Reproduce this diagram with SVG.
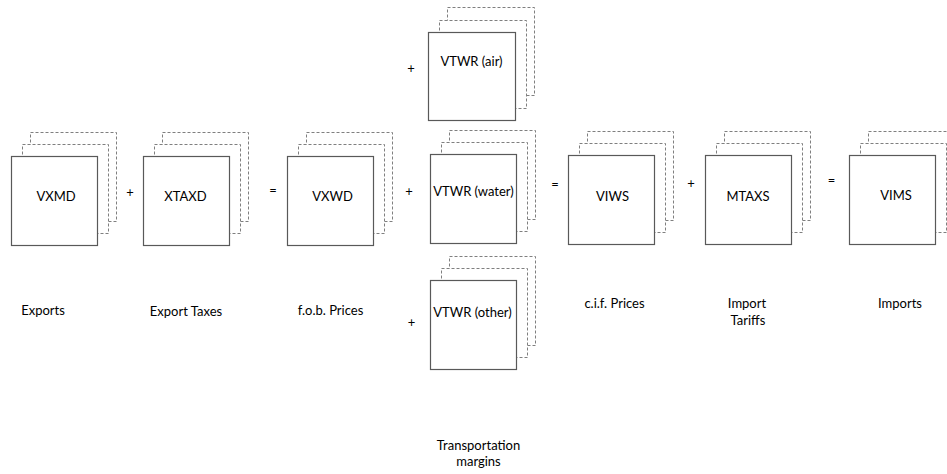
<svg xmlns="http://www.w3.org/2000/svg" width="947" height="474" viewBox="0 0 947 474">
<style>
  .bg { fill: #ffffff; }
  .d { fill: #ffffff; stroke: #7f7f7f; stroke-width: 1; stroke-dasharray: 3 2; }
  .m { fill: #ffffff; stroke: #595959; stroke-width: 1.2; }
  .t { font-family: Lato, "Liberation Sans", sans-serif; font-size: 13px; fill: #000000; text-anchor: middle; }
  .op { font-family: Lato, "Liberation Sans", sans-serif; font-size: 13px; fill: #000000; text-anchor: middle; }
</style>
<rect class="bg" x="0" y="0" width="947" height="474"/>

<g id="node-VXMD">
  <rect class="d" x="30.5" y="132.5" width="86" height="89"/>
  <rect class="d" x="22.5" y="144.5" width="86" height="89"/>
  <rect class="m" x="11.5" y="156.5" width="86" height="89"/>
  <text class="t" x="56" y="201">VXMD</text>
</g>
<g id="node-XTAXD">
  <rect class="d" x="162.5" y="132.5" width="86" height="89"/>
  <rect class="d" x="154.5" y="144.5" width="86" height="89"/>
  <rect class="m" x="143.5" y="156.5" width="86" height="89"/>
  <text class="t" x="185.5" y="201">XTAXD</text>
</g>
<g id="node-VXWD">
  <rect class="d" x="306.5" y="132.5" width="86" height="89"/>
  <rect class="d" x="298.5" y="144.5" width="86" height="89"/>
  <rect class="m" x="287.5" y="156.5" width="86" height="89"/>
  <text class="t" x="332.5" y="201">VXWD</text>
</g>
<g id="node-VTWR-air">
  <rect class="d" x="447.5" y="7.5" width="87" height="88"/>
  <rect class="d" x="439.5" y="20.5" width="87" height="88"/>
  <rect class="m" x="428.5" y="32.5" width="87" height="88"/>
  <text class="t" x="471.5" y="66">VTWR (air)</text>
</g>
<g id="node-VTWR-water">
  <rect class="d" x="449.5" y="130.5" width="86" height="89"/>
  <rect class="d" x="441.5" y="142.5" width="86" height="89"/>
  <rect class="m" x="430.5" y="154.5" width="86" height="89"/>
  <text class="t" x="473.5" y="196">VTWR (water)</text>
</g>
<g id="node-VTWR-other">
  <rect class="d" x="449.5" y="256.5" width="86" height="89"/>
  <rect class="d" x="441.5" y="268.5" width="86" height="89"/>
  <rect class="m" x="430.5" y="280.5" width="86" height="89"/>
  <text class="t" x="472.5" y="316.5">VTWR (other)</text>
</g>
<g id="node-VIWS">
  <rect class="d" x="587.5" y="131.5" width="86" height="89"/>
  <rect class="d" x="579.5" y="143.5" width="86" height="89"/>
  <rect class="m" x="568.5" y="155.5" width="86" height="89"/>
  <text class="t" x="612.5" y="200.5">VIWS</text>
</g>
<g id="node-MTAXS">
  <rect class="d" x="724.5" y="131.5" width="86" height="89"/>
  <rect class="d" x="716.5" y="143.5" width="86" height="89"/>
  <rect class="m" x="705.5" y="155.5" width="86" height="89"/>
  <text class="t" x="748" y="200.5">MTAXS</text>
</g>
<g id="node-VIMS">
  <rect class="d" x="868.5" y="131.5" width="86" height="89"/>
  <rect class="d" x="860.5" y="143.5" width="86" height="89"/>
  <rect class="m" x="849.5" y="155.5" width="86" height="89"/>
  <text class="t" x="896" y="200">VIMS</text>
</g>

<g id="connectors">
  <text class="op" x="130" y="197">+</text>
  <text class="op" x="273" y="195">=</text>
  <text class="op" x="409" y="196">+</text>
  <text class="op" x="411" y="72.5">+</text>
  <text class="op" x="411.5" y="327">+</text>
  <text class="op" x="555" y="188.5">=</text>
  <text class="op" x="691" y="188">+</text>
  <text class="op" x="831.5" y="185">=</text>
</g>

<g id="labels">
  <text class="t" x="43" y="315">Exports</text>
  <text class="t" x="186" y="316">Export Taxes</text>
  <text class="t" x="330.5" y="315">f.o.b. Prices</text>
  <text class="t" x="614.5" y="308">c.i.f. Prices</text>
  <text class="t" x="747" y="308">Import</text>
  <text class="t" x="748" y="325">Tariffs</text>
  <text class="t" x="900" y="307.5">Imports</text>
  <text class="t" x="478.5" y="449.5">Transportation</text>
  <text class="t" x="478.5" y="465.5">margins</text>
</g>
</svg>
